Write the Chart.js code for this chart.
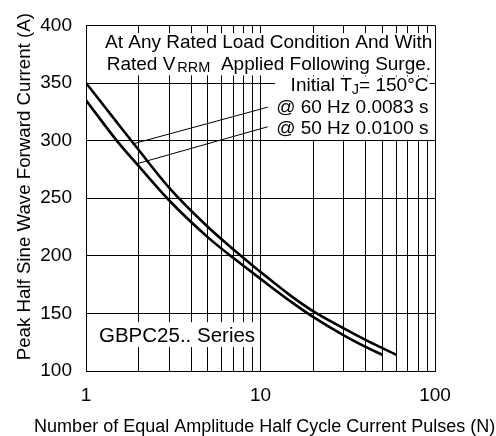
<!DOCTYPE html>
<html>
<head>
<meta charset="utf-8">
<script src="https://cdn.jsdelivr.net/npm/chart.js@4/dist/chart.umd.min.js"></script>
<style>
  html, body { margin: 0; padding: 0; background: #fff; }
</style>
</head>
<body>
<canvas id="surgeChart" width="496" height="436"></canvas>
<script>
const FONT = "'Liberation Sans', Arial, Helvetica, sans-serif";

// 60 Hz curve (upper one)
const pulses60 = [1, 1.5, 2, 3, 5, 7, 10, 15, 20, 30, 40, 60];
const current60 = [350, 316, 292, 259, 225, 205.5, 186, 165, 152, 137, 127, 114];

// 50 Hz curve (lower one)
const pulses50 = [1, 1.5, 2, 3, 5, 7, 10, 15, 20, 30, 40, 50];
const current50 = [335, 300, 278, 248, 216, 198, 180, 160, 147, 131, 121, 114];

// leader lines from the labels down to the curves
const leader60N = [1.84, 11];
const leader60I = [297, 329];
const leader50N = [1.97, 11];
const leader50I = [280, 312];

const xGridValues = [1, 2, 3, 4, 5, 6, 7, 8, 9, 10, 20, 30, 40, 50, 60, 70, 80, 90, 100];
const xTickLabels = [1, 10, 100];
const yMin = 100, yMax = 400, yStep = 50;

const xTitle = 'Number of Equal Amplitude Half Cycle Current Pulses (N)';
const yTitle = 'Peak Half Sine Wave Forward Current (A)';

function toPoints(xs, ys) {
  return xs.map((x, i) => ({ x: x, y: ys[i] }));
}

// rich text helpers (for the subscripts)
function partsWidth(ctx, parts) {
  let w = 0;
  parts.forEach(p => {
    ctx.font = p.s + 'px ' + FONT;
    w += (p.gap || 0) + ctx.measureText(p.t).width;
  });
  return w;
}
function drawParts(ctx, parts, x, base) {
  parts.forEach(p => {
    ctx.font = p.s + 'px ' + FONT;
    x += p.gap || 0;
    ctx.fillText(p.t, x, base + (p.dy || 0));
    x += ctx.measureText(p.t).width;
  });
}

const notes = {
  id: 'notes',
  beforeDatasetsDraw(chart) {
    const { ctx, chartArea: a } = chart;
    ctx.save();
    ctx.textAlign = 'left';
    ctx.textBaseline = 'alphabetic';

    // top block, left aligned
    const row1 = [{ t: 'At Any Rated Load Condition And With', s: 19 }];
    const row2 = [{ t: 'Rated V', s: 19 }, { t: 'RRM', s: 14.5, dy: 2, gap: 2 }, { t: '  Applied Following Surge.', s: 19 }];
    const x1 = a.left + 19, b1 = a.top + 22.7;
    const x2 = a.left + 20.7, b2 = a.top + 45;
    const w1 = partsWidth(ctx, row1), w2 = partsWidth(ctx, row2);
    ctx.fillStyle = '#fff';
    ctx.fillRect(x1 - 2, b1 - 15, Math.max(x1 + w1, x2 + w2) - x1 + 3, b2 - b1 + 20);

    // right block, right aligned
    const rows = [
      [{ t: 'Initial T', s: 19 }, { t: 'J', s: 14.5, dy: 3 }, { t: '= 150°C', s: 19 }],
      [{ t: '@ 60 Hz 0.0083 s', s: 19 }],
      [{ t: '@ 50 Hz 0.0100 s', s: 19 }]
    ];
    const bases = [a.top + 66, a.top + 87.7, a.top + 108.3];
    const right = a.left + 342.5;
    const widths = rows.map(r => partsWidth(ctx, r));
    const maxW = Math.max.apply(null, widths);
    ctx.fillStyle = '#fff';
    ctx.fillRect(right - maxW - 1, bases[0] - 15, maxW + 2, bases[2] - bases[0] + 21);

    // series label
    const gb = [{ t: 'GBPC25.. Series', s: 20.5 }];
    const gx = a.left + 13, gbase = a.top + 316.7;
    const gw = partsWidth(ctx, gb);
    ctx.fillRect(gx - 3, gbase - 20, gw + 4, 25);

    ctx.fillStyle = '#000';
    drawParts(ctx, row1, x1, b1);
    drawParts(ctx, row2, x2, b2);
    rows.forEach((r, i) => drawParts(ctx, r, right - widths[i], bases[i]));
    drawParts(ctx, gb, gx, gbase);
    ctx.restore();
  },
  afterDraw(chart) {
    const { ctx } = chart;
    ctx.save();
    ctx.fillStyle = '#000';
    ctx.textAlign = 'center';
    ctx.textBaseline = 'alphabetic';
    ctx.font = '18px ' + FONT;
    ctx.fillText(xTitle, 264.7, 431.7);
    ctx.translate(29.5, 186.7);
    ctx.rotate(-Math.PI / 2);
    ctx.font = '18.7px ' + FONT;
    ctx.fillText(yTitle, 0, 0);
    ctx.restore();
  }
};

const curveStyle = {
  borderColor: '#000',
  borderWidth: 2.6,
  pointRadius: 0,
  fill: false,
  cubicInterpolationMode: 'monotone'
};
const leaderStyle = {
  borderColor: '#000',
  borderWidth: 1,
  pointRadius: 0,
  fill: false,
  tension: 0
};

new Chart(document.getElementById('surgeChart'), {
  type: 'line',
  data: {
    datasets: [
      Object.assign({ label: '60 Hz', data: toPoints(pulses60, current60) }, curveStyle),
      Object.assign({ label: '50 Hz', data: toPoints(pulses50, current50) }, curveStyle),
      Object.assign({ label: 'leader 60', data: toPoints(leader60N, leader60I) }, leaderStyle),
      Object.assign({ label: 'leader 50', data: toPoints(leader50N, leader50I) }, leaderStyle)
    ]
  },
  options: {
    responsive: false,
    animation: false,
    layout: { padding: { top: 20, right: 61, left: 0, bottom: 0 } },
    plugins: {
      legend: { display: false },
      tooltip: { enabled: false }
    },
    scales: {
      x: {
        type: 'logarithmic',
        min: 1,
        max: 100,
        afterBuildTicks: s => { s.ticks = xGridValues.map(v => ({ value: v })); },
        afterFit: s => { s.height = 65; },
        grid: { color: '#000', lineWidth: 1, drawTicks: false },
        border: { color: '#000', width: 1 },
        ticks: {
          autoSkip: false,
          maxRotation: 0,
          padding: 13,
          color: '#000',
          font: { size: 19, family: FONT },
          callback: v => xTickLabels.includes(v) ? String(v) : ''
        }
      },
      y: {
        min: yMin,
        max: yMax,
        afterFit: s => { s.width = 86; },
        grid: { color: '#000', lineWidth: 1, drawTicks: false },
        border: { color: '#000', width: 1 },
        ticks: {
          stepSize: yStep,
          padding: 14,
          color: '#000',
          font: { size: 19, family: FONT }
        }
      }
    }
  },
  plugins: [notes]
});
</script>
</body>
</html>
